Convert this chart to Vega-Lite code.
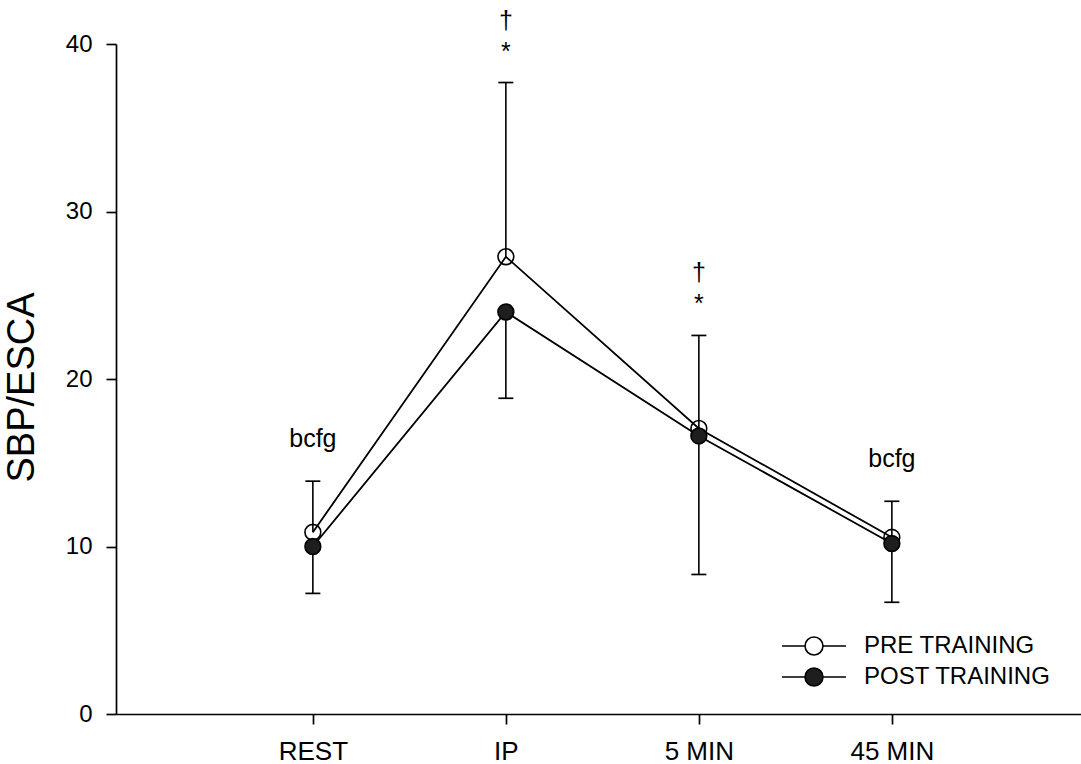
{
  "$schema": "https://vega.github.io/schema/vega-lite/v6.json",
  "width": 965,
  "height": 670,
  "autosize": {"type": "none"},
  "padding": {"left": 116, "top": 44, "right": 0, "bottom": 50},
  "background": "white",
  "config": {
    "view": {"stroke": null},
    "font": "Liberation Sans",
    "axis": {
      "domainColor": "black",
      "domainWidth": 1.7,
      "tickColor": "black",
      "tickWidth": 1.7,
      "tickSize": 10,
      "labelColor": "black",
      "labelFont": "Liberation Sans",
      "titleColor": "black",
      "titleFont": "Liberation Sans",
      "titleFontWeight": "normal",
      "grid": false
    }
  },
  "data": {
    "values": [
      {"time": "REST", "series": "PRE TRAINING", "mean": 10.85, "whisker": 13.9, "note": "bcfg", "dagger": ""},
      {"time": "REST", "series": "POST TRAINING", "mean": 10.0, "whisker": 7.2, "note": "", "dagger": ""},
      {"time": "IP", "series": "PRE TRAINING", "mean": 27.3, "whisker": 37.7, "note": "*", "dagger": "†"},
      {"time": "IP", "series": "POST TRAINING", "mean": 24.0, "whisker": 18.85, "note": "", "dagger": ""},
      {"time": "5 MIN", "series": "PRE TRAINING", "mean": 17.05, "whisker": 22.6, "note": "*", "dagger": "†"},
      {"time": "5 MIN", "series": "POST TRAINING", "mean": 16.6, "whisker": 8.33, "note": "", "dagger": ""},
      {"time": "45 MIN", "series": "PRE TRAINING", "mean": 10.55, "whisker": 12.7, "note": "bcfg", "dagger": ""},
      {"time": "45 MIN", "series": "POST TRAINING", "mean": 10.18, "whisker": 6.67, "note": "", "dagger": ""}
    ]
  },
  "encoding": {
    "x": {
      "field": "time",
      "type": "nominal",
      "sort": ["REST", "IP", "5 MIN", "45 MIN"],
      "scale": {"type": "point", "padding": 1, "align": 0.51},
      "axis": {
        "title": null,
        "labelAngle": 0,
        "labelFontSize": 26,
        "labelPadding": 14
      }
    }
  },
  "layer": [
    {
      "mark": {"type": "line", "color": "black", "strokeWidth": 1.8},
      "encoding": {
        "y": {
          "field": "mean",
          "type": "quantitative",
          "scale": {"domain": [0, 40]},
          "axis": {
            "values": [0, 10, 20, 30, 40],
            "title": "SBP/ESCA",
            "titleFontSize": 38,
            "titleX": -83,
            "titleY": 343,
            "titleBaseline": "alphabetic",
            "titleAngle": -90,
            "labelFontSize": 24,
            "labelPadding": 14
          }
        },
        "detail": {"field": "series", "type": "nominal"}
      }
    },
    {
      "mark": {"type": "rule", "color": "black", "strokeWidth": 1.6},
      "encoding": {
        "y": {"field": "mean", "type": "quantitative"},
        "y2": {"field": "whisker"}
      }
    },
    {
      "mark": {"type": "tick", "orient": "horizontal", "size": 15, "thickness": 1.7, "color": "black", "opacity": 1},
      "encoding": {
        "y": {"field": "whisker", "type": "quantitative"}
      }
    },
    {
      "mark": {"type": "point", "shape": "circle", "filled": true, "size": 250, "stroke": "black", "strokeWidth": 1.6, "opacity": 1},
      "encoding": {
        "y": {"field": "mean", "type": "quantitative"},
        "fill": {
          "field": "series",
          "type": "nominal",
          "scale": {"domain": ["PRE TRAINING", "POST TRAINING"], "range": ["transparent", "#1e1e1e"]},
          "legend": {
            "title": null,
            "orient": "none",
            "legendX": 684,
            "legendY": 588,
            "padding": 0,
            "symbolType": "M-2.5,0H-0.7M0.7,0H2.5M0.7,0A0.7,0.7,0,1,1,-0.7,0A0.7,0.7,0,1,1,0.7,0Z",
            "symbolSize": 655,
            "symbolStrokeColor": "black",
            "symbolStrokeWidth": 1.6,
            "symbolOpacity": 1,
            "labelFontSize": 24,
            "labelFont": "Liberation Sans",
            "labelColor": "black",
            "labelOffset": 36,
            "rowPadding": 4,
            "labelLimit": 400,
            "encode": {
              "symbols": {"update": {"stroke": {"value": "black"}, "strokeWidth": {"value": 1.6}}}
            }
          }
        }
      }
    },
    {
      "transform": [{"filter": "datum.note === 'bcfg'"}],
      "mark": {"type": "text", "fontSize": 25, "font": "Liberation Sans", "color": "black", "baseline": "alphabetic", "dy": -34},
      "encoding": {
        "y": {"field": "whisker", "type": "quantitative"},
        "text": {"field": "note"}
      }
    },
    {
      "transform": [{"filter": "datum.note === '*'"}],
      "mark": {"type": "text", "fontSize": 25, "font": "Liberation Sans", "color": "black", "baseline": "alphabetic", "dy": -23},
      "encoding": {
        "y": {"field": "whisker", "type": "quantitative"},
        "text": {"field": "note"}
      }
    },
    {
      "transform": [{"filter": "datum.dagger !== ''"}],
      "mark": {"type": "text", "fontSize": 25, "font": "Liberation Sans", "color": "black", "baseline": "alphabetic", "dy": -54},
      "encoding": {
        "y": {"field": "whisker", "type": "quantitative"},
        "text": {"field": "dagger"}
      }
    }
  ]
}
